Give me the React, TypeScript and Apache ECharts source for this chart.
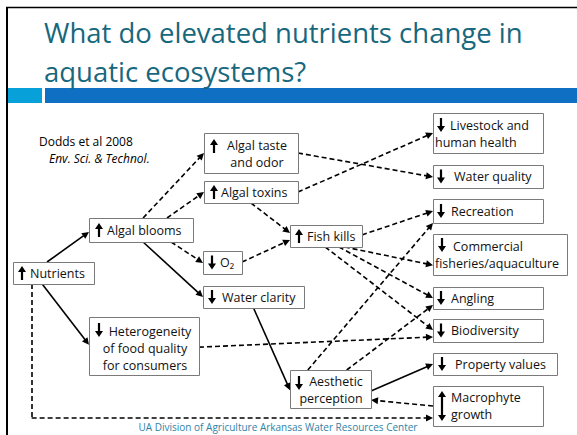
import { useEffect, useRef } from "react";
import * as echarts from "echarts";

const WIDTH = 577;
const HEIGHT = 435;

// ---- texts ----
const titleLines = ["What do elevated nutrients change in", "aquatic ecosystems?"];
const citationLines = ["Dodds et al 2008", "Env. Sci. & Technol."];
const footerText = "UA Division of Agriculture Arkansas Water Resources Center";

// ---- boxes (content) ----
const boxIds = ["N", "AB", "AT", "AX", "O2", "WC", "FK", "HF", "AP", "LH", "WQ", "RC", "CF", "AN", "BD", "PV", "MG"];
const boxTexts = [
  "Nutrients",
  "Algal blooms",
  "Algal taste\nand odor",
  "Algal toxins",
  "O₂",
  "Water clarity",
  "Fish kills",
  "Heterogeneity\nof food quality\nfor consumers",
  "Aesthetic\nperception",
  "Livestock and\nhuman health",
  "Water quality",
  "Recreation",
  "Commercial\nfisheries/aquaculture",
  "Angling",
  "Biodiversity",
  "Property values",
  "Macrophyte\ngrowth",
];
const boxTrends = ["up", "up", "up", "up", "down", "down", "up", "down", "down", "down", "down", "down", "down", "down", "down", "down", "both"];

// ---- edges (content) ----
const edgeFrom = ["N", "N", "AB", "WC", "AP", "AB", "AB", "AB", "AX", "O2", "AT", "AX", "FK", "FK", "FK", "FK", "AP", "AP", "HF", "MG", "N"];
const edgeTo = ["AB", "HF", "WC", "AP", "PV", "AT", "AX", "O2", "FK", "FK", "WQ", "LH", "RC", "CF", "AN", "BD", "RC", "AN", "BD", "AP", "MG"];
const edgeKinds = ["solid", "solid", "solid", "solid", "solid", "dashed", "dashed", "dashed", "dashed", "dashed", "dashed", "dashed", "dashed", "dashed", "dashed", "dashed", "dashed", "dashed", "dashed", "dashed", "elbow"];

// ---- layout (positions / sizes) ----
type Layout = {
  r: number[];
  ax: number;
  ay?: number;
  span?: number[];
  tx: number;
  ty?: number;
  align?: "left" | "center";
  indent?: number;
  lh?: number;
};
const boxLayout: Record<string, Layout> = {
  N: { r: [13, 262, 94, 284], ax: 22, tx: 30 },
  AB: { r: [89, 218, 193, 242], ax: 99, tx: 107 },
  AT: { r: [204, 133, 298, 173], ax: 214, ay: 146, tx: 257, ty: 145, align: "center", lh: 17 },
  AX: { r: [204, 181, 298, 203], ax: 214, tx: 221 },
  O2: { r: [203, 251, 242, 274], ax: 212, tx: 220 },
  WC: { r: [203, 286, 304, 308], ax: 212, tx: 222 },
  FK: { r: [290, 225, 362, 247], ax: 299, tx: 307 },
  HF: { r: [89, 317, 199, 375], ax: 99, ay: 330, tx: 145, ty: 331, align: "center", indent: 5, lh: 17 },
  AP: { r: [290, 370, 371, 408], ax: 299, ay: 383, tx: 331, ty: 381.5, align: "center", indent: 5, lh: 17 },
  LH: { r: [433, 113, 543, 153], ax: 441, ay: 125, tx: 435, ty: 125, align: "left", indent: 15, lh: 17 },
  WQ: { r: [433, 165, 543, 188], ax: 441, tx: 454 },
  RC: { r: [433, 199, 543, 223], ax: 441, tx: 451 },
  CF: { r: [433, 234, 567, 275], ax: 442, ay: 245, tx: 435, ty: 246, align: "left", indent: 18, lh: 17 },
  AN: { r: [433, 287, 543, 309], ax: 441, tx: 451 },
  BD: { r: [433, 319, 543, 342], ax: 441, tx: 451 },
  PV: { r: [433, 353, 557, 375], ax: 442, tx: 455 },
  MG: { r: [433, 386, 543, 426], ax: 442, span: [391, 421], tx: 451, ty: 397.5, align: "left", lh: 17 },
};
// anchor fractions on the source and target boxes: [fx, fy, tx, ty]
const edgeAnchors = [
  [0.42, 0, 0, 0.58],
  [0.36, 1, 0, 0.48],
  [0.52, 1, 0, 0.5],
  [0.5, 1, 0, 0.53],
  [1, 0.55, 0, 0.5],
  [0.52, 0, 0, 0.5],
  [0.75, 0, 0, 0.5],
  [0.79, 1, 0, 0.52],
  [0.5, 1, 0, 0.36],
  [1, 0.48, 0, 0.68],
  [1, 0.5, 0, 0.52],
  [1, 0.5, 0, 0.5],
  [1, 0.45, 0, 0.5],
  [0.76, 1, 0, 0.76],
  [0.68, 1, 0, 0.5],
  [0.49, 1, 0, 0.48],
  [0.22, 0, 0, 1],
  [0.7, 0, 0, 0.82],
  [1, 0.52, 0, 0.78],
  [0, 0.5, 1, 0.79],
  [0.23, 1, 0, 0.8],
];

const FONT = '"Open Sans", "DejaVu Sans", sans-serif';
const ARROW = "path://M5 0 L10 10 L0 10 Z";
const ARROW_SIZE = 7;

function anchorPoint(id: string, fx: number, fy: number): number[] {
  const r = boxLayout[id].r;
  return [r[0] + (r[2] - r[0]) * fx, r[1] + (r[3] - r[1]) * fy];
}
function retract(from: number[], to: number[], d: number): number[] {
  const dx = to[0] - from[0];
  const dy = to[1] - from[1];
  const len = Math.hypot(dx, dy) || 1;
  return [to[0] - (dx / len) * d, to[1] - (dy / len) * d];
}

function trendPolygon(cx: number, top: number, bottom: number, trend: string): number[][] {
  const hw = 4; // head half width
  const hh = 6; // head height
  const sw = 1.1; // shaft half width
  if (trend === "up") {
    return [[cx, top], [cx + hw, top + hh], [cx + sw, top + hh], [cx + sw, bottom], [cx - sw, bottom], [cx - sw, top + hh], [cx - hw, top + hh]];
  }
  if (trend === "down") {
    return [[cx, bottom], [cx + hw, bottom - hh], [cx + sw, bottom - hh], [cx + sw, top], [cx - sw, top], [cx - sw, bottom - hh], [cx - hw, bottom - hh]];
  }
  return [
    [cx, top], [cx + hw, top + hh], [cx + sw, top + hh], [cx + sw, bottom - hh], [cx + hw, bottom - hh],
    [cx, bottom], [cx - hw, bottom - hh], [cx - sw, bottom - hh], [cx - sw, top + hh], [cx - hw, top + hh],
  ];
}

export default function App() {
  const ref = useRef<HTMLDivElement>(null);

  useEffect(() => {
    if (!ref.current) return;
    const chart = echarts.init(ref.current, null, { renderer: "svg" });

    const solidData: any[] = [];
    const dashedData: any[] = [];
    const plainData: any[] = [];
    edgeFrom.forEach((f, i) => {
      const a = edgeAnchors[i];
      const p0 = anchorPoint(f, a[0], a[1]);
      const p1 = anchorPoint(edgeTo[i], a[2], a[3]);
      if (edgeKinds[i] === "elbow") {
        const corner = [p0[0], p1[1]];
        plainData.push({ coords: [p0, corner] });
        dashedData.push({ coords: [corner, retract(corner, p1, ARROW_SIZE / 2)] });
      } else {
        const item = { coords: [p0, retract(p0, p1, ARROW_SIZE / 2)] };
        (edgeKinds[i] === "solid" ? solidData : dashedData).push(item);
      }
    });

    const lineBase = {
      type: "lines",
      coordinateSystem: "cartesian2d",
      polyline: false,
      silent: true,
      symbolSize: ARROW_SIZE,
      z: 2,
    };

    const option: any = {
      animation: false,
      backgroundColor: "#ffffff",
      grid: { left: 0, right: 0, top: 0, bottom: 0, containLabel: false },
      xAxis: { type: "value", min: 0, max: WIDTH, show: false },
      yAxis: { type: "value", min: 0, max: HEIGHT, inverse: true, show: false },
      graphic: [
        { type: "line", shape: { x1: 6, y1: 7.5, x2: WIDTH, y2: 7.5 }, style: { stroke: "#000", lineWidth: 1.5 } },
        { type: "line", shape: { x1: 7, y1: 7, x2: 7, y2: HEIGHT }, style: { stroke: "#000", lineWidth: 2 } },
        { type: "rect", shape: { x: 8, y: 88, width: 34, height: 15 }, style: { fill: "#08a0d8" } },
        { type: "rect", shape: { x: 45, y: 88, width: WIDTH - 45, height: 15 }, style: { fill: "#0f6fc3" } },
        ...titleLines.map((t, i) => ({
          type: "text",
          style: {
            text: t, x: 44, y: 32 + i * 39, fill: "#17687e", font: `27.5px ${FONT}`,
            align: "left", textAlign: "left", verticalAlign: "middle", textVerticalAlign: "middle",
          },
        })),
        {
          type: "text",
          style: {
            text: citationLines[0], x: 39, y: 141, fill: "#000", font: `12px ${FONT}`,
            align: "left", textAlign: "left", verticalAlign: "middle", textVerticalAlign: "middle",
          },
        },
        {
          type: "text",
          style: {
            text: citationLines[1], x: 49, y: 158, fill: "#000", font: `italic 12px ${FONT}`,
            align: "left", textAlign: "left", verticalAlign: "middle", textVerticalAlign: "middle",
          },
        },
        {
          type: "text",
          z: 10,
          style: {
            text: footerText, x: 278, y: 427, fill: "#2f82a6", font: `10px ${FONT}`,
            align: "center", textAlign: "center", verticalAlign: "middle", textVerticalAlign: "middle",
          },
        },
      ],
      series: [
        {
          ...lineBase,
          name: "solid",
          symbol: ["none", ARROW],
          lineStyle: { color: "#000", width: 1.6, type: "solid", opacity: 1, curveness: 0 },
          data: solidData,
        },
        {
          ...lineBase,
          name: "dashed",
          symbol: ["none", ARROW],
          lineStyle: { color: "#000", width: 1.6, type: [5, 3], opacity: 1, curveness: 0 },
          data: dashedData,
        },
        {
          ...lineBase,
          name: "plain",
          symbol: ["none", "none"],
          lineStyle: { color: "#000", width: 1.6, type: [5, 3], opacity: 1, curveness: 0 },
          data: plainData,
        },
        {
          type: "custom",
          name: "boxes",
          coordinateSystem: "cartesian2d",
          silent: true,
          clip: false,
          z: 3,
          encode: { x: [0, 2], y: [1, 3] },
          data: boxIds.map((id) => boxLayout[id].r),
          renderItem: (params: any, api: any) => {
            const i = params.dataIndex;
            const id = boxIds[i];
            const L = boxLayout[id];
            const tl = api.coord([L.r[0], L.r[1]]);
            const br = api.coord([L.r[2], L.r[3]]);
            const cy = (L.r[1] + L.r[3]) / 2;
            const lines = boxTexts[i].split("\n");
            const lh = L.lh ?? 16;
            const ty = L.ty ?? cy;
            const align = L.align ?? "left";
            let top: number;
            let bottom: number;
            if (L.span) {
              top = L.span[0];
              bottom = L.span[1];
            } else {
              const ay = L.ay ?? cy;
              top = ay - 7;
              bottom = ay + 7;
            }
            const poly = trendPolygon(L.ax, top, bottom, boxTrends[i]).map((p) => api.coord(p));
            const children: any[] = [
              {
                type: "rect",
                shape: { x: Math.round(tl[0]) + 0.5, y: Math.round(tl[1]) + 0.5, width: Math.round(br[0] - tl[0]), height: Math.round(br[1] - tl[1]) },
                style: { fill: "#fff", stroke: "#7a7a7a", lineWidth: 1 },
              },
              { type: "polygon", shape: { points: poly }, style: { fill: "#000" } },
            ];
            lines.forEach((t, k) => {
              const x = L.tx + (k === 0 ? L.indent ?? 0 : 0);
              const p = api.coord([x, ty + k * lh]);
              children.push({
                type: "text",
                style: {
                  text: t, x: p[0], y: p[1], fill: "#111", font: `12.5px ${FONT}`,
                  align, textAlign: align, verticalAlign: "middle", textVerticalAlign: "middle",
                },
              });
            });
            return { type: "group", children };
          },
        },
      ],
    };

    chart.setOption(option);
    return () => chart.dispose();
  }, []);

  return (
    <div
      ref={ref}
      style={{ position: "fixed", left: 0, top: 0, width: WIDTH, height: HEIGHT, background: "#fff" }}
    />
  );
}
